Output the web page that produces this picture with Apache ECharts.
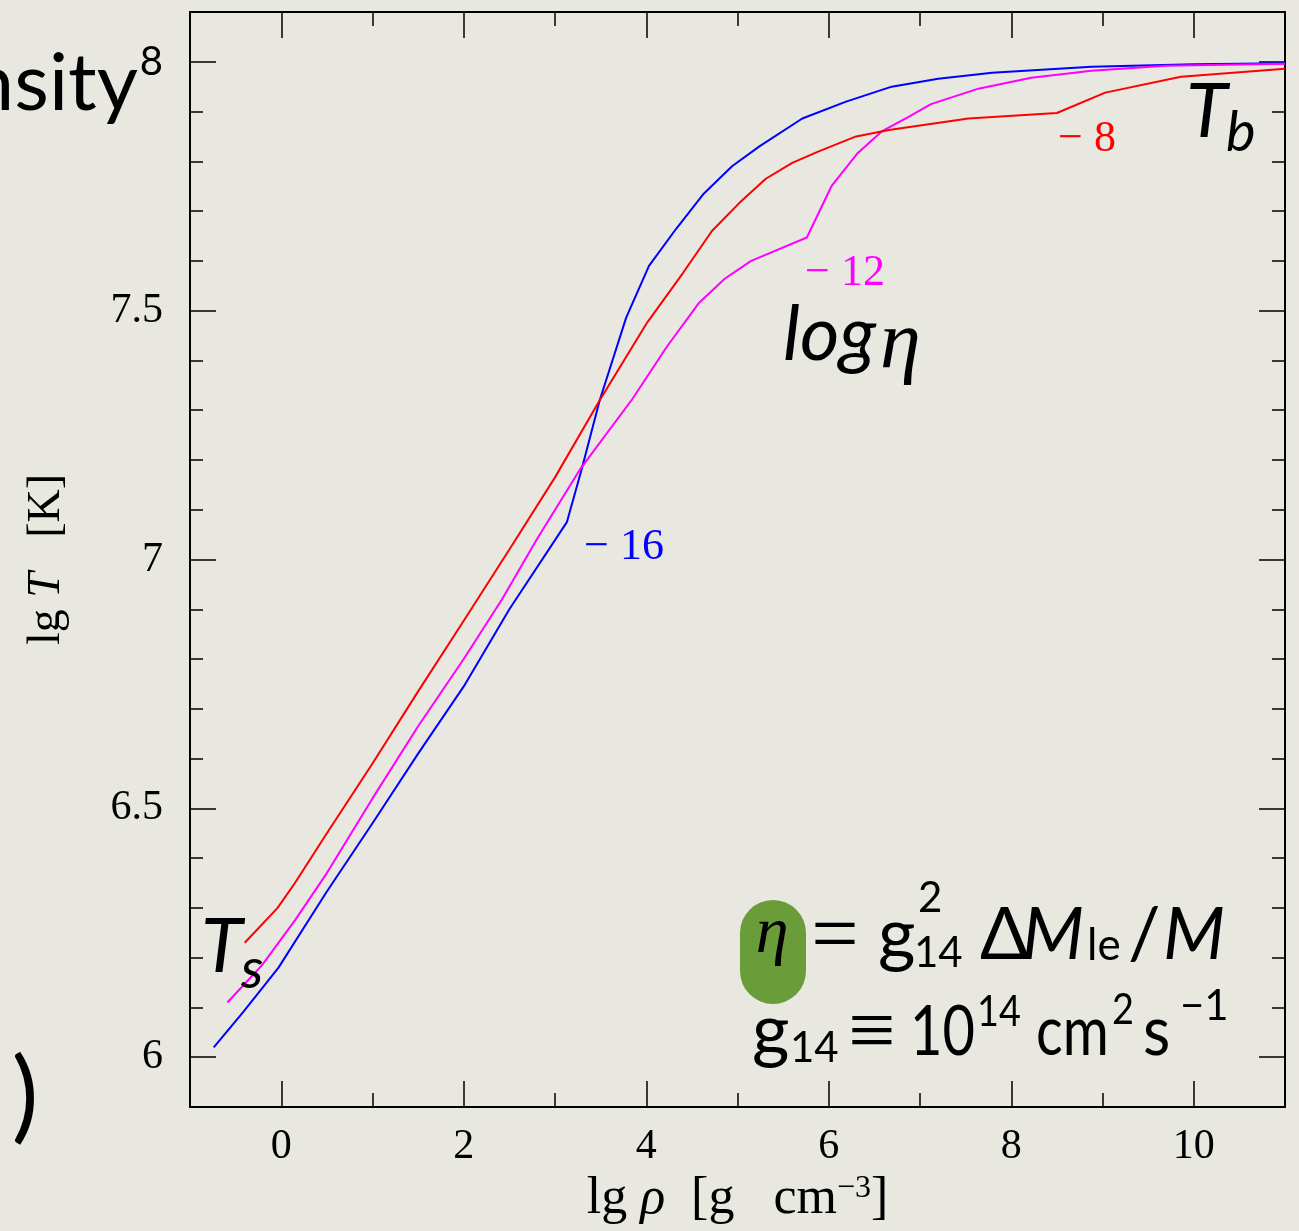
<!DOCTYPE html>
<html>
<head>
<meta charset="utf-8">
<script src="https://cdn.jsdelivr.net/npm/echarts@6/dist/echarts.min.js"></script>
<style>
html,body{margin:0;padding:0;background:#e8e7e0;}
#chart{width:1299px;height:1231px;}
</style>
</head>
<body>
<div id="chart"></div>
<script>
// ---- data (lg rho, lg T) ----
const blueX = [-0.74,-0.42,-0.03,0.5,1.0,1.5,2.0,2.5,3.13,3.29,3.49,3.78,4.03,4.33,4.63,4.94,5.24,5.71,6.19,6.69,7.2,7.79,8.88,10.0,11.0];
const blueY = [6.02,6.09,6.18,6.333,6.47,6.61,6.745,6.90,7.075,7.18,7.32,7.486,7.59,7.665,7.735,7.79,7.83,7.886,7.92,7.95,7.966,7.978,7.99,7.995,7.997];
const magX = [-0.59,-0.21,0.15,0.5,1.0,1.5,2.0,2.42,2.8,3.27,3.85,4.22,4.58,4.86,5.15,5.76,6.03,6.31,6.58,6.88,7.12,7.64,8.22,8.88,9.69,11.0];
const magY = [6.11,6.185,6.275,6.37,6.52,6.665,6.80,6.92,7.04,7.18,7.323,7.426,7.516,7.564,7.60,7.647,7.75,7.815,7.86,7.89,7.915,7.946,7.968,7.982,7.992,7.996];
const redX = [-0.40,-0.04,0.15,0.5,1.0,1.5,2.0,2.5,3.0,3.49,4.01,4.4,4.72,5.04,5.31,5.6,5.89,6.3,6.66,7.53,8.5,9.03,9.86,11.0];
const redY = [6.23,6.30,6.35,6.45,6.59,6.735,6.877,7.02,7.165,7.32,7.476,7.575,7.66,7.72,7.765,7.797,7.82,7.85,7.863,7.886,7.897,7.938,7.97,7.986];

const seriesNames = ['-16','-12','-8'];
const xMajor = [0,2,4,6,8,10];
const xMinor = [1,3,5,7,9];
const yMajor = [6,6.5,7,7.5,8];
const yMinor = [6.1,6.2,6.3,6.4,6.6,6.7,6.8,6.9,7.1,7.2,7.3,7.4,7.6,7.7,7.8,7.9];

const zip = (xs, ys) => xs.map((x,i)=>[x, ys[i]]);

const serif = 'Liberation Serif';
const sans = 'Lato';

const chart = echarts.init(document.getElementById('chart'), null, {renderer:'canvas'});

function xAx(pos, ticks, len, showLine, showLabel, extra){
  return Object.assign({
    type:'value', min:-1, max:11, position:pos,
    axisLine:{show:showLine, onZero:false, lineStyle:{color:'#000', width:2}},
    axisTick:{show:true, inside:true, length:len, customValues:ticks, lineStyle:{color:'#000', width:1.5}},
    axisLabel:{show:showLabel, customValues:ticks, margin:19, color:'#000', fontFamily:serif, fontSize:42},
    splitLine:{show:false}
  }, extra||{});
}
function yAx(pos, ticks, len, showLine, showLabel, extra){
  return Object.assign({
    type:'value', min:5.9, max:8.1, position:pos,
    axisLine:{show:showLine, onZero:false, lineStyle:{color:'#000', width:2}},
    axisTick:{show:true, inside:true, length:len, customValues:ticks, lineStyle:{color:'#000', width:1.5}},
    axisLabel:{show:showLabel, customValues:ticks, margin:27, color:'#000', fontFamily:serif, fontSize:42,
      formatter: v => (Math.abs(v-8)<1e-9 ? '{s|8}' : String(v)),
      rich:{s:{fontFamily:sans, fontSize:40, color:'#000'}}},
    splitLine:{show:false}
  }, extra||{});
}

const T = (text, x, y, font, opts, sx) => ({
  type:'text', x:x, y:y, z:100, scaleX:(sx||1),
  style:Object.assign({text:text, font:font, fill:'#000', textAlign:'left', textVerticalAlign:'middle'}, (opts||{}))
});

const option = {
  backgroundColor:'#e8e7e0',
  animation:false,
  grid:{left:190, right:14, top:12, bottom:124, containLabel:false},
  xAxis:[
    xAx('bottom', xMajor, 26, true, true, {
      name:'{r|lg }{i|ρ}{r|  [g   cm}{s|−3}{r|]}', nameLocation:'middle', nameGap:62,
      nameTextStyle:{fontFamily:serif, fontSize:52, color:'#000',
        rich:{r:{fontFamily:serif, fontSize:52, color:'#000'},
              i:{fontFamily:serif, fontStyle:'italic', fontSize:52, color:'#000'},
              s:{fontFamily:serif, fontSize:32, color:'#000', verticalAlign:'top', padding:[0,0,18,0]}}}
    }),
    xAx('bottom', xMinor, 14, false, false),
    xAx('top', xMajor, 26, true, false),
    xAx('top', xMinor, 14, false, false)
  ],
  yAxis:[
    yAx('left', yMajor, 26, true, true, {
      name:'{r|lg }{i|T}{r|   [K]}', nameLocation:'middle', nameGap:120,
      nameTextStyle:{fontFamily:serif, fontSize:46, color:'#000',
        rich:{r:{fontFamily:serif, fontSize:46, color:'#000'},
              i:{fontFamily:serif, fontStyle:'italic', fontSize:46, color:'#000'}}}
    }),
    yAx('left', yMinor, 13, false, false),
    yAx('right', yMajor, 26, true, false),
    yAx('right', yMinor, 13, false, false)
  ],
  series:[
    {name:seriesNames[0], type:'line', data:zip(blueX, blueY), showSymbol:false, symbol:'none',
     lineStyle:{color:'#0000ff', width:2}, xAxisIndex:0, yAxisIndex:0},
    {name:seriesNames[1], type:'line', data:zip(magX, magY), showSymbol:false, symbol:'none',
     lineStyle:{color:'#ff00ff', width:2}, xAxisIndex:0, yAxisIndex:0},
    {name:seriesNames[2], type:'line', data:zip(redX, redY), showSymbol:false, symbol:'none',
     lineStyle:{color:'#ff0000', width:2}, xAxisIndex:0, yAxisIndex:0}
  ],
  graphic:{elements:[
    // slide fragments
    T('Density', 138, 84, '80px '+sans, {textAlign:'right'}),
    T(')', 25, 1098, '100px '+sans, {textAlign:'center'}),
    // curve labels
    T('− 16', 624, 547, '44px '+serif, {fill:'#0000ff', textAlign:'center'}),
    T('− 12', 845, 273, '44px '+serif, {fill:'#ff00ff', textAlign:'center'}),
    T('− 8', 1087, 139, '44px '+serif, {fill:'#ff0000', textAlign:'center'}),
    // log eta
    T('log', 783, 335, 'italic 76px '+sans),
    T('η', 880, 345, 'italic 82px '+serif),
    // T_b, T_s
    T('T', 1186, 112, 'italic 76px '+sans),
    T('b', 1226, 133, 'italic 56px '+sans),
    T('T', 201, 947, 'italic 76px '+sans),
    T('s', 241, 970, 'italic 56px '+sans),
    // formula line 1
    {type:'rect', z:90, shape:{x:740, y:900, width:66, height:104, r:33}, style:{fill:'#6a9c3a'}},
    T('η', 772, 935, 'italic 66px '+serif, {textAlign:'center'}),
    T('=', 835, 940, '84px '+serif, {textAlign:'center'}),
    T('g', 878, 936, '72px '+sans),
    T('2', 918, 898, '42px '+sans),
    T('14', 914, 953, '42px '+sans),
    T('Δ', 980, 936, '72px '+sans),
    T('M', 1022, 936, 'italic 72px '+sans),
    T('le', 1087, 946, '44px '+sans),
    T('/', 1128, 936, '72px '+sans),
    T('M', 1163, 936, 'italic 72px '+sans),
    // formula line 2
    T('g', 752, 1032, '72px '+sans),
    T('14', 790, 1048, '42px '+sans),
    T('≡', 872, 1036, '84px '+serif, {textAlign:'center'}),
    T('10', 910, 1032, '70px '+sans, null, 0.8),
    T('14', 977, 1012, '42px '+sans, null, 0.9),
    T('cm', 1036, 1032, '70px '+sans, null, 0.8),
    T('2', 1112, 1010, '42px '+sans, null, 0.9),
    T('s', 1143, 1032, '70px '+sans, null, 0.9),
    T('−1', 1180, 1006, '42px '+sans)
  ]}
};
chart.setOption(option);
</script>
</body>
</html>
